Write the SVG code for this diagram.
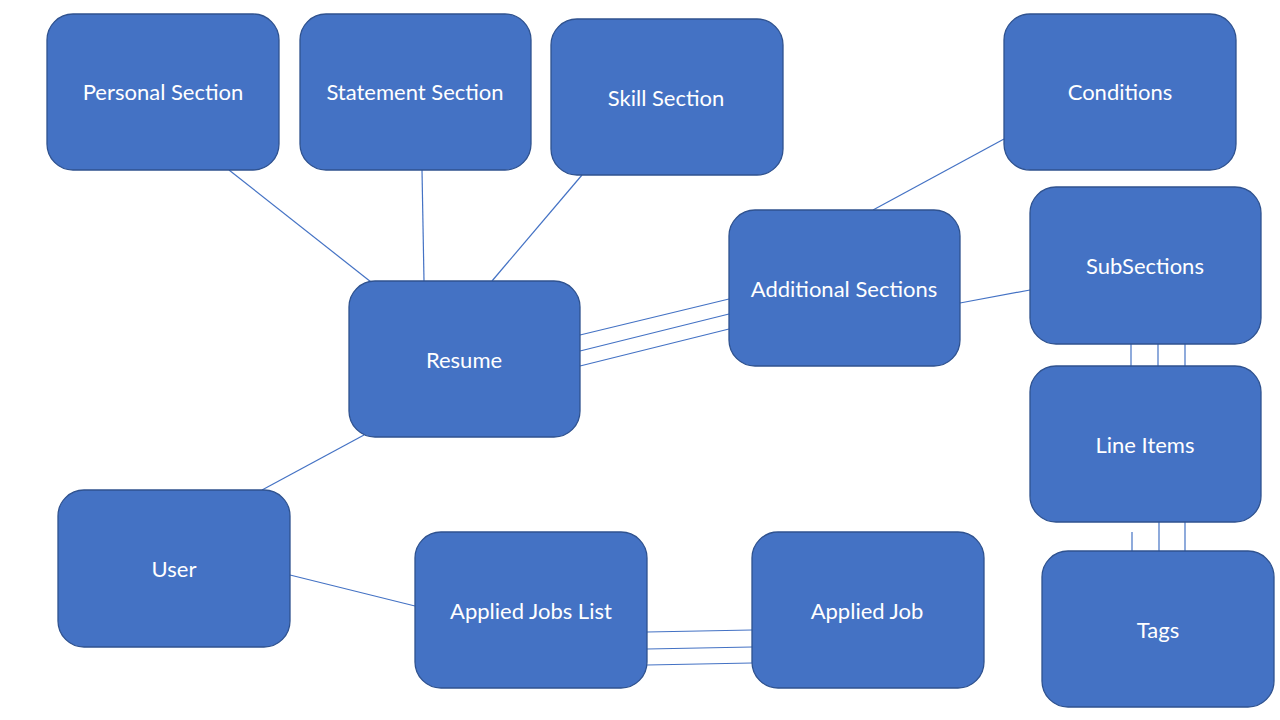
<svg xmlns="http://www.w3.org/2000/svg" width="1280" height="720" viewBox="0 0 1280 720">
<style>
.n{fill:#4472C4;stroke:#2F528F;stroke-width:1.3}
.t{fill:#FFFFFF;font-family:Lato,"Liberation Sans",sans-serif;font-size:22px;text-anchor:middle;dominant-baseline:central}
.c line{stroke:#4472C4;stroke-width:1.2}
</style>
<rect width="1280" height="720" fill="#FFFFFF"/>
<g class="c" id="connectors">
<line x1="229" y1="170" x2="371" y2="282"/>
<line x1="422" y1="170" x2="424" y2="281"/>
<line x1="582" y1="175" x2="492" y2="281"/>
<line x1="1004" y1="139" x2="873" y2="210"/>
<line x1="580" y1="335" x2="729" y2="299"/>
<line x1="580" y1="351" x2="729" y2="314"/>
<line x1="580" y1="366" x2="729" y2="329"/>
<line x1="960" y1="303" x2="1030" y2="290"/>
<line x1="1131" y1="344" x2="1131" y2="366"/>
<line x1="1158" y1="344" x2="1158" y2="366"/>
<line x1="1185" y1="344" x2="1185" y2="366"/>
<line x1="1132" y1="532" x2="1132" y2="551"/>
<line x1="1159" y1="522" x2="1159" y2="551"/>
<line x1="1185" y1="522" x2="1185" y2="551"/>
<line x1="364" y1="435" x2="262" y2="490"/>
<line x1="290" y1="575" x2="415" y2="606"/>
<line x1="647" y1="632" x2="752" y2="630"/>
<line x1="647" y1="649" x2="752" y2="647"/>
<line x1="647" y1="665" x2="752" y2="663"/>
</g>
<g id="personal"><rect class="n" x="47" y="14" width="232" height="156" rx="26"/><text class="t" x="163" y="91">Personal Section</text></g>
<g id="statement"><rect class="n" x="300" y="14" width="231" height="156" rx="26"/><text class="t" x="415" y="91">Statement Section</text></g>
<g id="skill"><rect class="n" x="551" y="19" width="232" height="156" rx="26"/><text class="t" x="666" y="97">Skill Section</text></g>
<g id="conditions"><rect class="n" x="1004" y="14" width="232" height="156" rx="26"/><text class="t" x="1120" y="91">Conditions</text></g>
<g id="additional"><rect class="n" x="729" y="210" width="231" height="156" rx="26"/><text class="t" x="844" y="288">Additional Sections</text></g>
<g id="subsections"><rect class="n" x="1030" y="187" width="231" height="157" rx="26"/><text class="t" x="1145" y="265">SubSections</text></g>
<g id="resume"><rect class="n" x="349" y="281" width="231" height="156" rx="26"/><text class="t" x="464" y="359">Resume</text></g>
<g id="lineitems"><rect class="n" x="1030" y="366" width="231" height="156" rx="26"/><text class="t" x="1145" y="444">Line Items</text></g>
<g id="user"><rect class="n" x="58" y="490" width="232" height="157" rx="26"/><text class="t" x="174" y="568">User</text></g>
<g id="appliedjobslist"><rect class="n" x="415" y="532" width="232" height="156" rx="26"/><text class="t" x="531" y="610">Applied Jobs List</text></g>
<g id="appliedjob"><rect class="n" x="752" y="532" width="232" height="156" rx="26"/><text class="t" x="867" y="610">Applied Job</text></g>
<g id="tags"><rect class="n" x="1042" y="551" width="232" height="156" rx="26"/><text class="t" x="1158" y="629">Tags</text></g>
</svg>
